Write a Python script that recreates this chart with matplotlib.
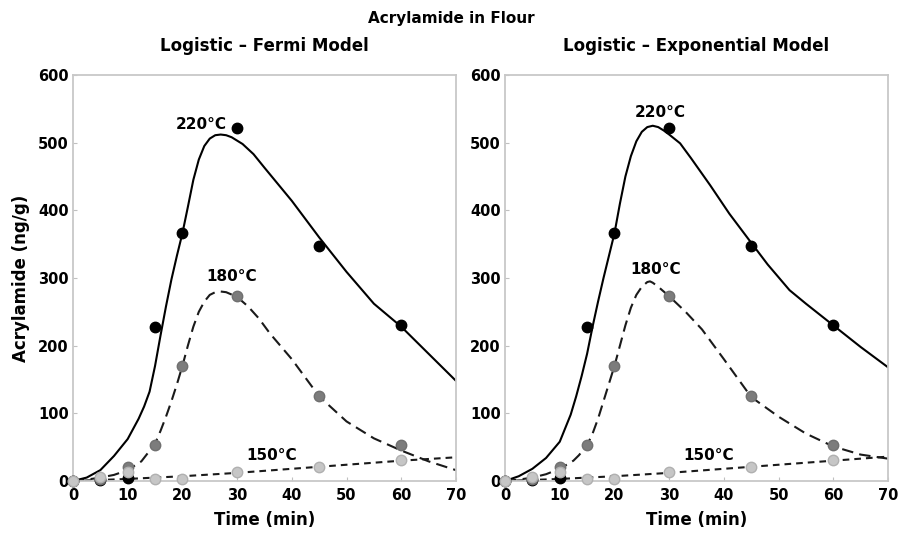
import matplotlib.pyplot as plt

plt.rcParams['font.family'] = 'DejaVu Sans'
plt.rcParams['font.weight'] = 'bold'

# measured acrylamide (ng/g) at each baking time (min)
time_obs = [0, 5, 10, 15, 20, 30, 45, 60]
obs_220 = [0, 2, 5, 228, 367, 522, 347, 230]
obs_180 = [0, 3, 21, 53, 170, 274, 125, 53]
obs_150 = [0, 6, 14, 3, 3, 14, 21, 31]

# Logistic - Fermi model curves
fermi_t220 = [0, 2.5, 5, 7.5, 10, 12, 13, 14, 15, 16, 17, 18, 19, 20, 21, 22,
              23, 24, 25, 26, 27, 28, 29, 31, 33, 35, 40, 45, 50, 55, 60, 65, 70]
fermi_v220 = [0, 5, 16, 37, 62, 92, 110, 132, 170, 215, 258, 298, 333, 366,
              405, 445, 475, 495, 506, 511, 512, 511, 508, 498, 483, 463, 414,
              360, 309, 262, 228, 188, 148]
fermi_t180 = [0, 2.5, 5, 7.5, 10, 12.5, 15, 16, 17, 18, 19, 20, 21, 22, 23, 24,
              25, 26, 27, 28, 30, 32, 34, 36, 40, 45, 50, 55, 60, 65, 70]
fermi_v180 = [0, 2, 5, 9, 16, 29, 55, 74, 95, 118, 143, 170, 200, 228, 250,
              265, 275, 279, 280, 279, 272, 258, 240, 218, 180, 125, 88, 63,
              45, 29, 16]
fermi_t150 = [0, 10, 20, 30, 40, 50, 60, 70]
fermi_v150 = [0, 3, 7, 12, 18, 24, 30, 35]

# Logistic - Exponential model curves
expo_t220 = [0, 2.5, 5, 7.5, 10, 12, 13, 14, 15, 16, 17, 18, 19, 20, 21, 22,
             23, 24, 25, 26, 27, 28, 29, 30, 32, 34, 37.5, 41, 45, 48, 52, 55,
             60, 65, 70]
expo_v220 = [0, 7, 18, 34, 58, 98, 125, 155, 188, 228, 265, 300, 333, 366,
             410, 450, 480, 502, 516, 523, 525, 523, 518, 512, 499, 477, 437,
             395, 352, 320, 282, 262, 230, 198, 168]
expo_t180 = [0, 2.5, 5, 7.5, 10, 12.5, 13.5, 15, 16, 17, 18, 19, 20, 21, 22,
             23, 24, 25, 26, 26.5, 27, 28, 30, 33, 36, 40, 45, 50, 55, 60, 65, 70]
expo_v180 = [0, 2, 5, 10, 18, 30, 38, 53, 70, 92, 118, 144, 170, 200, 230,
             256, 275, 287, 294, 295, 293, 287, 273, 250, 224, 180, 124, 95,
             70, 51, 39, 33]
expo_t150 = [0, 10, 20, 30, 40, 50, 60, 70]
expo_v150 = [0, 3, 7, 12, 18, 24, 30, 36]

panels = [
    ('Logistic – Fermi Model', fermi_t220, fermi_v220, fermi_t180, fermi_v180,
     fermi_t150, fermi_v150, [(23.4, 527), (29, 302), (36.3, 37)]),
    ('Logistic – Exponential Model', expo_t220, expo_v220, expo_t180, expo_v180,
     expo_t150, expo_v150, [(28.3, 544), (27.6, 313), (37.2, 38)]),
]
temp_labels = ['220°C', '180°C', '150°C']

fig = plt.figure(figsize=(9.02, 5.33), dpi=100)
ax_l = fig.add_axes([0.0809, 0.0976, 0.4246, 0.7617])
ax_r = fig.add_axes([0.5599, 0.0976, 0.4246, 0.7617])

for ax, (title, t1, v1, t2, v2, t3, v3, lab_pos) in zip([ax_l, ax_r], panels):
    ax.plot(t1, v1, color='black', lw=1.5, solid_capstyle='round')
    ax.plot(t2, v2, color='#1a1a1a', lw=1.5, dashes=(5.5, 3))
    ax.plot(t3, v3, color='#1a1a1a', lw=1.5, dashes=(3.2, 2.4))

    ax.plot(time_obs, obs_220, 'o', color='black', ms=7.5, clip_on=False, zorder=4)
    ax.plot(time_obs, obs_180, 'o', color='#7c7c7c', mec='#707070', ms=7.5,
            clip_on=False, zorder=5)
    ax.plot(time_obs, obs_150, 'o', color='#c6c6c6', mec='#b0b0b0', ms=7.5,
            clip_on=False, zorder=6)

    for txt, (x, y) in zip(temp_labels, lab_pos):
        ax.text(x, y, txt, ha='center', va='center', fontsize=11, fontweight='bold')

    ax.set_xlim(0, 70)
    ax.set_ylim(0, 600)
    ax.set_xticks(range(0, 71, 10))
    ax.set_yticks(range(0, 601, 100))
    ax.tick_params(direction='in', length=3, color='#c0c0c0', labelsize=10.5)
    ax.tick_params(axis='x', pad=5)
    ax.tick_params(axis='y', pad=3)
    for sp in ax.spines.values():
        sp.set_color('#c8c8c8')
        sp.set_linewidth(1.3)
    ax.set_title(title, fontsize=12, fontweight='bold', pad=17)
    ax.set_xlabel('Time (min)', fontsize=12, fontweight='bold', labelpad=6)

ax_l.set_ylabel('Acrylamide (ng/g)', fontsize=12, fontweight='bold', labelpad=6)
fig.text(0.5, 0.966, 'Acrylamide in Flour', ha='center', va='center',
         fontsize=11, fontweight='bold')

fig.savefig('out.png', dpi=100)
